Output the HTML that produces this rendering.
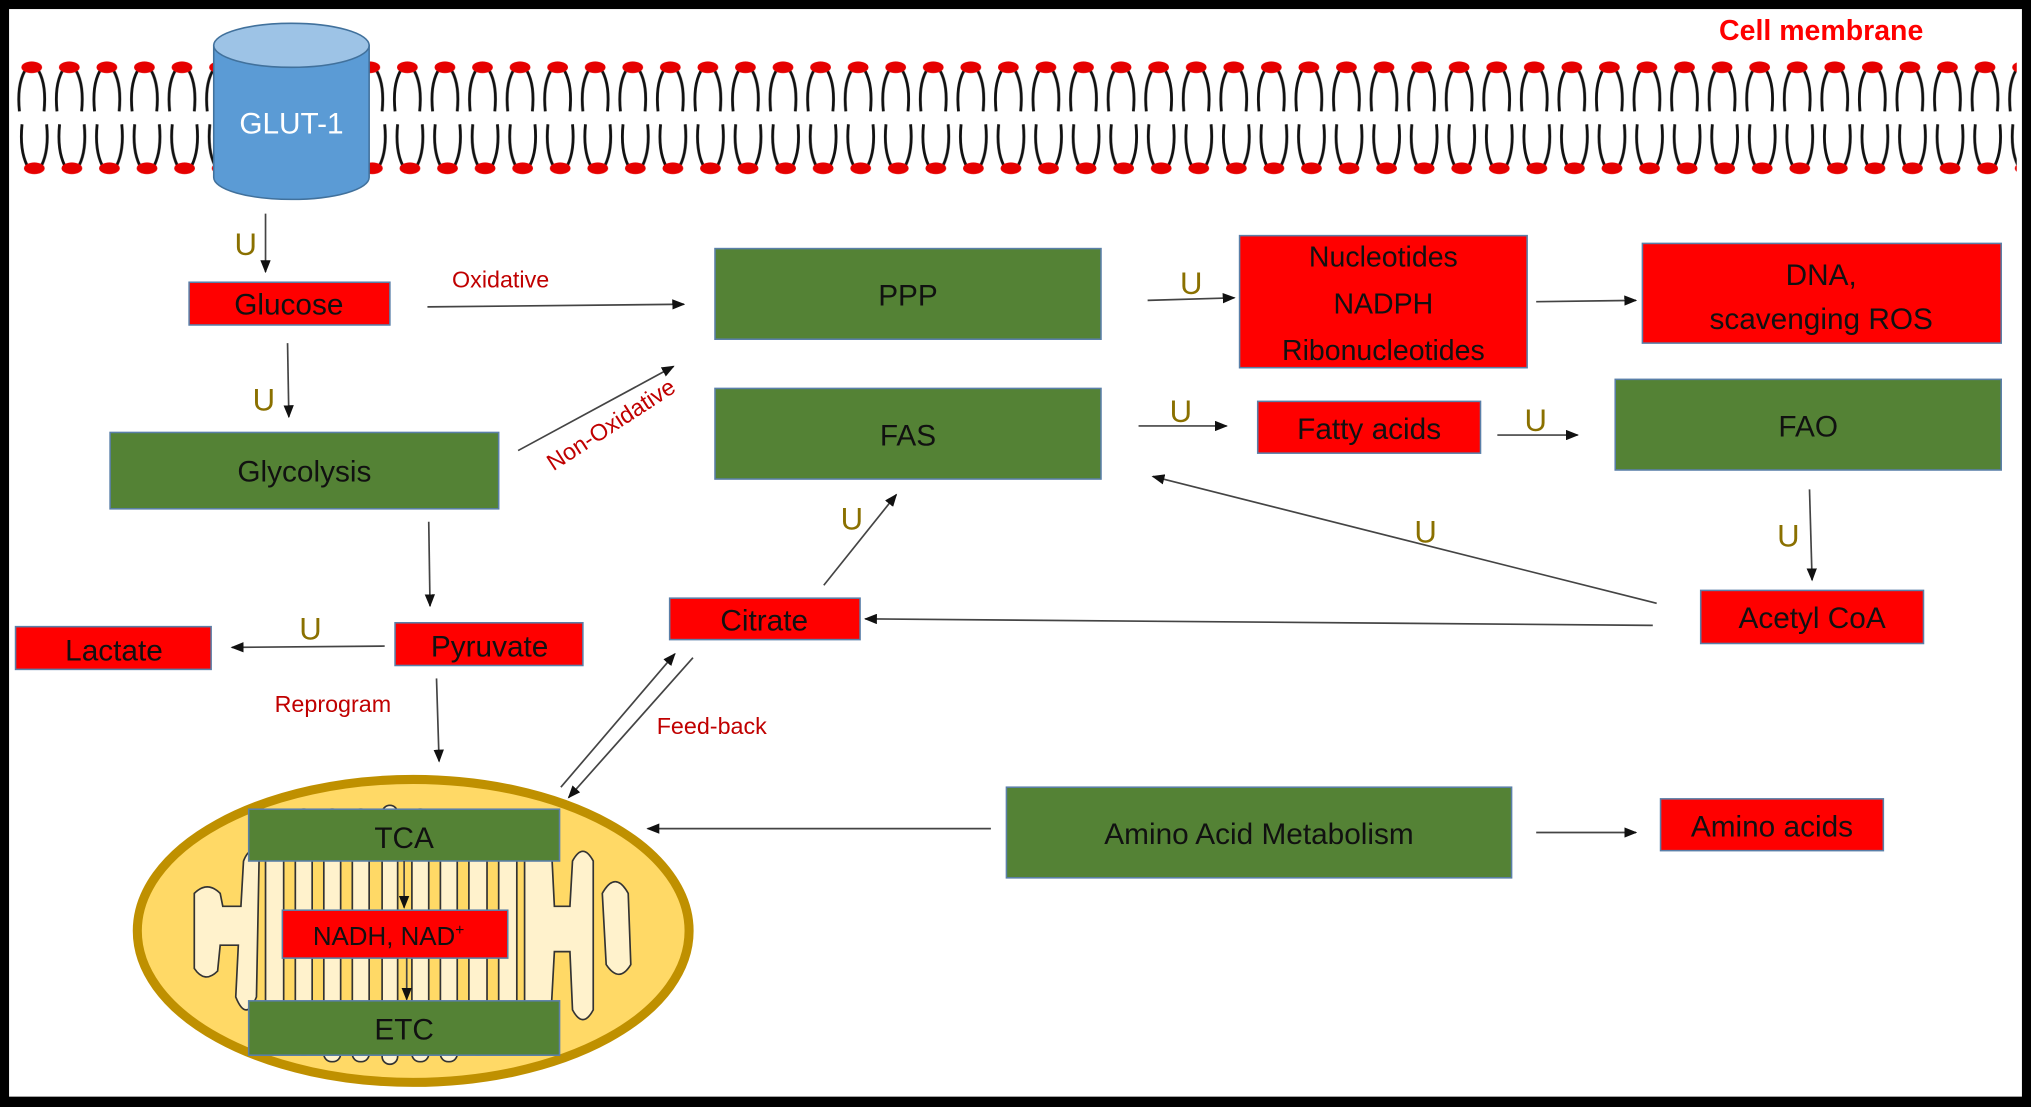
<!DOCTYPE html>
<html><head><meta charset="utf-8"><style>
html,body{margin:0;padding:0;background:#000;}
svg{display:block;}
text{font-family:"Liberation Sans",sans-serif;}
.b{font-size:23px;fill:#111;text-anchor:middle;}
.u{font-size:24px;fill:#8a7000;}
.r{font-size:18px;fill:#c00000;}
.ln{stroke:#444;stroke-width:1.3;fill:none;marker-end:url(#ah);}
.g{fill:#548235;stroke:#5a7fa8;stroke-width:1.2;}
.rd{fill:#ff0000;stroke:#5a7fa8;stroke-width:1.2;}
</style></head><body>
<svg width="2031" height="1107" viewBox="0 0 1568 855" preserveAspectRatio="none" xmlns="http://www.w3.org/2000/svg">
<defs>
<marker id="ah" markerWidth="10" markerHeight="8" refX="9" refY="4" orient="auto" markerUnits="userSpaceOnUse"><path d="M0,0 L10,4 L0,8 Z" fill="#111"/></marker>
<pattern id="top" x="10" y="44" width="29" height="45" patternUnits="userSpaceOnUse">
<path d="M9,11 Q3,22 5,42 M20,11 Q26,22 24,42" stroke="#111" stroke-width="2.2" fill="none"/>
<ellipse cx="14.5" cy="8" rx="8" ry="4.5" fill="#e60000"/>
</pattern>
<pattern id="bot" x="12" y="92" width="29" height="45" patternUnits="userSpaceOnUse">
<path d="M9,36 Q3,24 5,4 M20,36 Q26,24 24,4" stroke="#111" stroke-width="2.2" fill="none"/>
<ellipse cx="14.5" cy="38" rx="8" ry="4.5" fill="#e60000"/>
</pattern>
</defs>
<rect x="0" y="0" width="1568" height="855" fill="#000"/>
<rect x="7" y="7" width="1554" height="840" fill="#fff"/>
<rect x="12" y="44" width="1545" height="45" fill="url(#top)"/>
<rect x="12" y="92" width="1545" height="45" fill="url(#bot)"/>
<text x="1406" y="31" style="font-size:22px;font-weight:bold;fill:#f00;text-anchor:middle">Cell membrane</text>
<path d="M165,35 L165,137 A60,17 0 0 0 285,137 L285,35 Z" fill="#5b9bd5" stroke="#41719c" stroke-width="1.2"/>
<ellipse cx="225" cy="35" rx="60" ry="17" fill="#9dc3e6" stroke="#41719c" stroke-width="1.2"/>
<text x="225" y="103" style="font-size:23px;fill:#fff;text-anchor:middle">GLUT-1</text>
<line class="ln" x1="205" y1="165" x2="205" y2="210"/><text class="u" x="181" y="197">U</text>
<rect class="rd" x="146" y="218" width="155" height="33"/><text class="b" x="223" y="243">Glucose</text>
<line class="ln" x1="222" y1="265" x2="223" y2="322"/><text class="u" x="195" y="317">U</text>
<rect class="g" x="85" y="334" width="300" height="59"/><text class="b" x="235" y="372">Glycolysis</text>
<text class="r" x="349" y="222">Oxidative</text>
<line class="ln" x1="330" y1="237" x2="528" y2="235"/>
<line class="ln" x1="400" y1="348" x2="520" y2="283"/>
<text class="r" x="475" y="333" transform="rotate(-33 475 333)" text-anchor="middle">Non-Oxidative</text>
<rect class="g" x="552" y="192" width="298" height="70"/><text class="b" x="701" y="236">PPP</text>
<rect class="g" x="552" y="300" width="298" height="70"/><text class="b" x="701" y="344">FAS</text>
<line class="ln" x1="886" y1="232" x2="953" y2="230"/><text class="u" x="911" y="227">U</text>
<rect class="rd" x="957" y="182" width="222" height="102"/>
<text class="b" x="1068" y="206" style="font-size:22px">Nucleotides</text><text class="b" x="1068" y="242" style="font-size:22px">NADPH</text><text class="b" x="1068" y="278" style="font-size:22px">Ribonucleotides</text>
<line class="ln" x1="1186" y1="233" x2="1263" y2="232"/>
<rect class="rd" x="1268" y="188" width="277" height="77"/>
<text class="b" x="1406" y="220">DNA,</text><text class="b" x="1406" y="254">scavenging ROS</text>
<line class="ln" x1="879" y1="329" x2="947" y2="329"/><text class="u" x="903" y="326">U</text>
<rect class="rd" x="971" y="310" width="172" height="40"/><text class="b" x="1057" y="339">Fatty acids</text>
<line class="ln" x1="1156" y1="336" x2="1218" y2="336"/><text class="u" x="1177" y="333">U</text>
<rect class="g" x="1247" y="293" width="298" height="70"/><text class="b" x="1396" y="337">FAO</text>
<line class="ln" x1="1397" y1="378" x2="1399" y2="448"/><text class="u" x="1372" y="422">U</text>
<rect class="rd" x="1313" y="456" width="172" height="41"/><text class="b" x="1399" y="485">Acetyl CoA</text>
<line class="ln" x1="1279" y1="466" x2="890" y2="368"/><text class="u" x="1092" y="419">U</text>
<line class="ln" x1="1276" y1="483" x2="668" y2="478"/>
<rect class="rd" x="517" y="462" width="147" height="32"/><text class="b" x="590" y="487">Citrate</text>
<line class="ln" x1="636" y1="452" x2="692" y2="382"/><text class="u" x="649" y="409">U</text>
<line class="ln" x1="331" y1="403" x2="332" y2="468"/>
<rect class="rd" x="305" y="481" width="145" height="33"/><text class="b" x="378" y="507">Pyruvate</text>
<line class="ln" x1="297" y1="499" x2="179" y2="500"/><text class="u" x="231" y="494">U</text>
<rect class="rd" x="12" y="484" width="151" height="33"/><text class="b" x="88" y="510">Lactate</text>
<text class="r" x="212" y="550">Reprogram</text>
<line class="ln" x1="337" y1="524" x2="339" y2="588"/>
<ellipse cx="319" cy="719" rx="213" ry="117" fill="#ffd966" stroke="#bf9000" stroke-width="7"/>
<g fill="#fff2cc" stroke="#333" stroke-width="1.3">
<path d="M150,690 Q160,680 170,690 L172,700 L186,700 L188,665 Q194,650 200,665 L198,770 Q190,790 182,770 L184,730 L170,730 L168,750 Q158,760 150,748 Z"/>
<rect x="205" y="630" width="14" height="180" rx="7"/>
<rect x="228" y="625" width="13" height="190" rx="6"/>
<rect x="250" y="625" width="13" height="195" rx="6"/>
<rect x="272" y="625" width="13" height="195" rx="6"/>
<rect x="295" y="622" width="12" height="200" rx="6"/>
<rect x="318" y="625" width="13" height="195" rx="6"/>
<rect x="340" y="630" width="13" height="190" rx="6"/>
<rect x="362" y="630" width="14" height="185" rx="7"/>
<rect x="385" y="635" width="14" height="175" rx="7"/>
<path d="M405,640 Q415,625 425,640 L428,700 L440,700 L442,665 Q450,650 458,665 L458,780 Q450,795 442,780 L440,735 L428,735 L425,790 Q415,805 405,790 Z"/>
<path d="M465,690 Q475,672 485,690 L487,745 Q478,760 468,745 Z"/>
</g>
<rect class="g" x="192" y="625" width="240" height="40"/><text class="b" x="312" y="655">TCA</text>
<line class="ln" x1="312" y1="665" x2="312" y2="701"/>
<rect class="rd" x="218" y="703" width="174" height="37"/><text class="b" x="300" y="730" style="font-size:20px">NADH, NAD<tspan dy="-8" style="font-size:12px">+</tspan></text>
<line class="ln" x1="314" y1="740" x2="314" y2="772"/>
<rect class="g" x="192" y="773" width="240" height="42"/><text class="b" x="312" y="803">ETC</text>
<line class="ln" x1="433" y1="608" x2="521" y2="505"/>
<line class="ln" x1="535" y1="508" x2="439" y2="616"/>
<text class="r" x="507" y="567">Feed-back</text>
<rect class="g" x="777" y="608" width="390" height="70"/><text class="b" x="972" y="652">Amino Acid Metabolism</text>
<line class="ln" x1="765" y1="640" x2="500" y2="640"/>
<line class="ln" x1="1186" y1="643" x2="1263" y2="643"/>
<rect class="rd" x="1282" y="617" width="172" height="40"/><text class="b" x="1368" y="646">Amino acids</text>
</svg>
</body></html>
